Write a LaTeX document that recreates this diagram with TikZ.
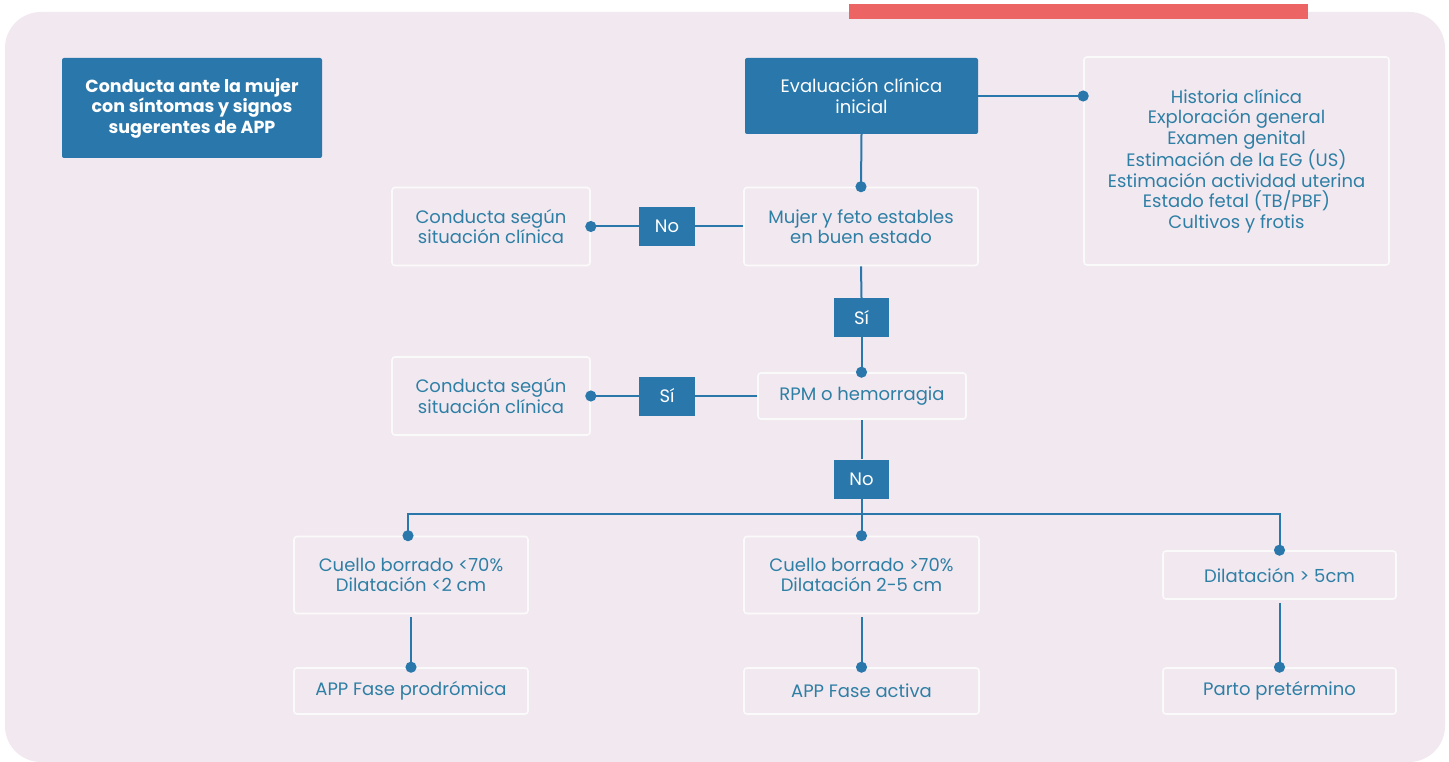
\documentclass[tikz,border=0pt]{standalone}
\usepackage{fontspec}
\setmainfont{Poppins}
\usetikzlibrary{arrows.meta}
\definecolor{bg}{HTML}{F2E8F0}
\definecolor{redbar}{HTML}{EC6464}
\definecolor{bluefill}{HTML}{2A78AB}
\definecolor{bluetext}{HTML}{2E7FA5}
\definecolor{boxedge}{HTML}{FBFAFB}
\tikzset{
  darkbox/.style={fill=bluefill, text=white, align=center, inner sep=0pt, rounded corners=2pt,
    font=\fontsize{18}{20.5}\selectfont},
  lightbox/.style={fill=bg, draw=boxedge, line width=1.6pt, text=bluetext, align=center, inner sep=0pt,
    rounded corners=3pt, font=\fontsize{18}{20.5}\selectfont},
  labelbox/.style={fill=bluefill, text=white, inner sep=0pt, minimum width=56pt, minimum height=39pt,
    font=\fontsize{18}{20}\selectfont},
  conn/.style={draw=bluefill, line width=2pt},
  dotend/.style={conn, -{Circle[length=11pt]}, shorten >=-5.5pt},
}
\begin{document}
\begin{tikzpicture}[x=1pt,y=-1pt]
\useasboundingbox (0,0) rectangle (1449,762);
\fill[white] (0,0) rectangle (1449,762);
\fill[bg, rounded corners=36pt] (5,12) rectangle (1445,762);
\fill[redbar] (849,4) rectangle (1308,19);

% main boxes
\node[darkbox, minimum width=260pt, minimum height=100pt, font=\fontsize{17.5}{20.5}\selectfont\bfseries] (title) at (192,108)
  {Conducta ante la mujer\\con síntomas y signos\\sugerentes de APP};
\node[darkbox, minimum width=233pt, minimum height=76pt] (eval) at (861.5,96)
  {Evaluación clínica\\inicial};
\node[lightbox, minimum width=305pt, minimum height=208pt] (list) at (1236.5,161)
  {Historia clínica\\Exploración general\\Examen genital\\Estimación de la EG (US)\\Estimación actividad uterina\\Estado fetal (TB/PBF)\\Cultivos y frotis};
\node[lightbox, minimum width=234pt, minimum height=78pt] (mujer) at (861,226.5)
  {Mujer y feto estables\\en buen estado};
\node[lightbox, minimum width=198pt, minimum height=78pt] (cond1) at (491,226.5)
  {Conducta según\\situación clínica};
\node[lightbox, minimum width=208pt, minimum height=46pt] (rpm) at (862,396)
  {RPM o hemorragia};
\node[lightbox, minimum width=198pt, minimum height=78pt] (cond2) at (491,396)
  {Conducta según\\situación clínica};
\node[lightbox, minimum width=234pt, minimum height=77pt] (cuello1) at (411,575)
  {Cuello borrado <70\%\\Dilatación <2 cm};
\node[lightbox, minimum width=234pt, minimum height=46pt] (app1) at (411,691)
  {APP Fase prodrómica};
\node[lightbox, minimum width=235pt, minimum height=77pt] (cuello2) at (861.5,575)
  {Cuello borrado >70\%\\Dilatación 2-5 cm};
\node[lightbox, minimum width=235pt, minimum height=46pt] (app2) at (861.5,691)
  {APP Fase activa};
\node[lightbox, minimum width=233pt, minimum height=48pt] (dil) at (1279.5,575)
  {Dilatación > 5cm};
\node[lightbox, minimum width=233pt, minimum height=46pt] (parto) at (1279.5,691)
  {Parto pretérmino};

% label boxes
\node[labelbox] (no1) at (667,226.5) {No};
\node[labelbox, minimum width=55pt] (si1) at (861.5,317.5) {Sí};
\node[labelbox] (si2) at (667,396) {Sí};
\node[labelbox, minimum width=55pt] (no2) at (861.5,479) {No};
\coordinate (br) at (861.5,514);

% connectors
\draw[dotend] (eval.east) -- (eval.east -| list.west);
\draw[dotend] (eval.south) -- (mujer.north);
\draw[conn] (mujer.west) -- (no1.east);
\draw[dotend] (no1.west) -- (cond1.east);
\draw[conn] (mujer.south) -- (si1.north);
\draw[dotend] (si1.south) -- (rpm.north -| si1.south);
\draw[conn] (rpm.west) -- (si2.east);
\draw[dotend] (si2.west) -- (cond2.east);
\draw[conn] (rpm.south -| no2.north) -- (no2.north);
\draw[dotend] (no2.south) -- (cuello2.north);
\draw[dotend] (br) -| ([xshift=-3pt]cuello1.north);
\draw[dotend] (br) -| (dil.north);
\draw[dotend] ([yshift=-3pt]cuello1.south) -- (app1.north);
\draw[dotend] ([yshift=-3pt]cuello2.south) -- (app2.north);
\draw[dotend] ([yshift=-3pt]dil.south) -- (parto.north);
\end{tikzpicture}
\end{document}
